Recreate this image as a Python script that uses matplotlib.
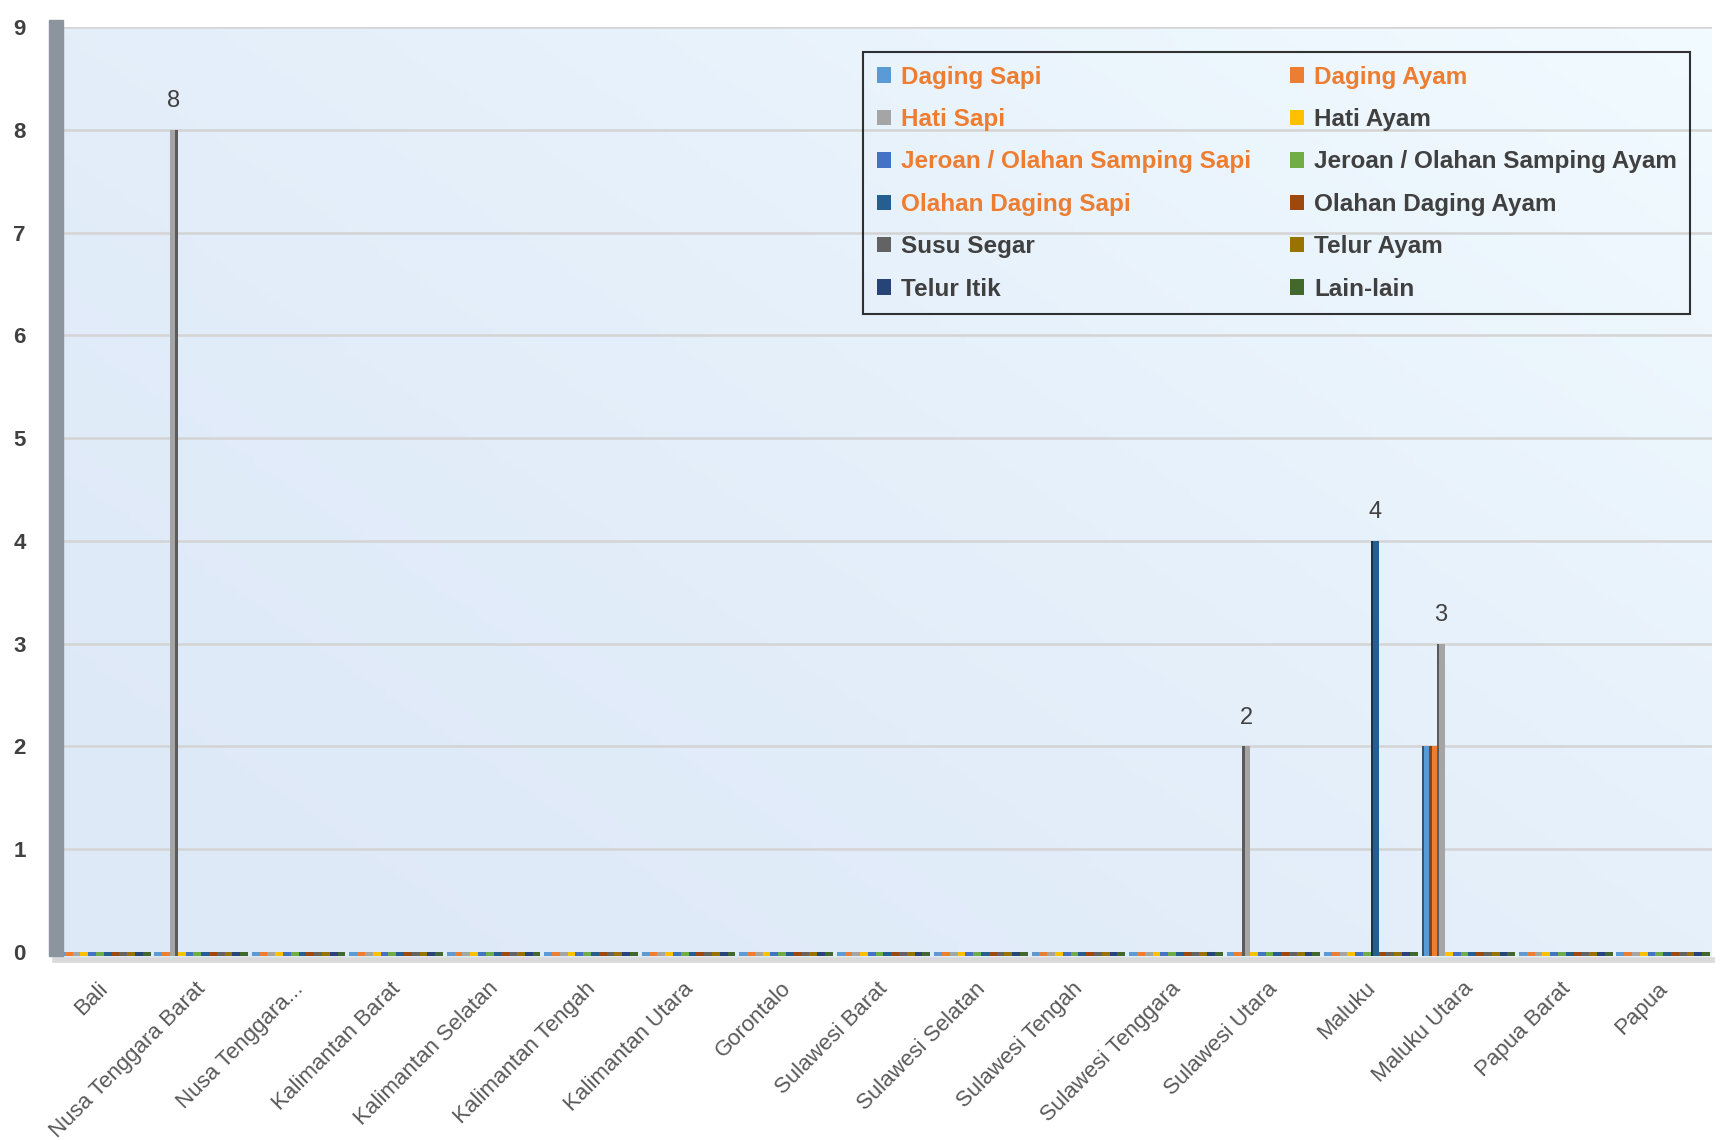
import numpy as np
import matplotlib
matplotlib.use("Agg")
import matplotlib.pyplot as plt
import matplotlib.transforms as mtransforms
from matplotlib.patches import Patch, Rectangle
from matplotlib.colors import to_rgb

plt.rcParams["font.family"] = ["Liberation Sans", "DejaVu Sans"]

provinces = ["Bali", "Nusa Tenggara Barat", "Nusa Tenggara...", "Kalimantan Barat",
             "Kalimantan Selatan", "Kalimantan Tengah", "Kalimantan Utara", "Gorontalo",
             "Sulawesi Barat", "Sulawesi Selatan", "Sulawesi Tengah", "Sulawesi Tenggara",
             "Sulawesi Utara", "Maluku", "Maluku Utara", "Papua Barat", "Papua"]

series_names = ["Daging Sapi", "Daging Ayam", "Hati Sapi", "Hati Ayam",
                "Jeroan / Olahan Samping Sapi", "Jeroan / Olahan Samping Ayam",
                "Olahan Daging Sapi", "Olahan Daging Ayam", "Susu Segar",
                "Telur Ayam", "Telur Itik", "Lain-lain"]

series_colors = ["#5B9BD5", "#ED7D31", "#A5A5A5", "#FFC000", "#4472C4", "#70AD47",
                 "#255E91", "#9E480E", "#636363", "#997300", "#264478", "#43682B"]

# legend label colours as in the source
label_colors = ["#ED7D31", "#ED7D31", "#ED7D31", "#404040", "#ED7D31", "#404040",
                "#ED7D31", "#404040", "#404040", "#404040", "#404040", "#404040"]

daging_sapi = [0, 0, 0, 0, 0, 0, 0, 0, 0, 0, 0, 0, 0, 0, 2, 0, 0]
daging_ayam = [0, 0, 0, 0, 0, 0, 0, 0, 0, 0, 0, 0, 0, 0, 2, 0, 0]
hati_sapi = [0, 8, 0, 0, 0, 0, 0, 0, 0, 0, 0, 0, 2, 0, 3, 0, 0]
olahan_daging_sapi = [0, 0, 0, 0, 0, 0, 0, 0, 0, 0, 0, 0, 0, 4, 0, 0, 0]
zeros = [0] * len(provinces)

values = [daging_sapi, daging_ayam, hati_sapi, zeros, zeros, zeros,
          olahan_daging_sapi, zeros, zeros, zeros, zeros, zeros]

W, H = 1723, 1140
fig = plt.figure(figsize=(W / 100, H / 100), dpi=100)
fig.patch.set_facecolor("white")

left, right = 55 / W, 1712 / W
bottom, top = 1 - 960 / H, 1 - 27 / H
ax = fig.add_axes([left, bottom, right - left, top - bottom])

ymin, ymax = -0.08, 9
ax.set_xlim(-0.5, len(provinces) - 0.5)
ax.set_ylim(ymin, ymax)

# gradient background
nx, ny = 200, 200
gx, gy = np.meshgrid(np.linspace(0, 1, nx), np.linspace(0, 1, ny))
t = np.clip(0.55 * gx + 0.45 * gy, 0, 1) ** 1.6
c0 = np.array(to_rgb("#DEE9F8"))
c1 = np.array(to_rgb("#F2FBFF"))
img = c0[None, None, :] * (1 - t[..., None]) + c1[None, None, :] * t[..., None]
ax.imshow(img, extent=[0, 1, 0, 1], transform=ax.transAxes, origin="lower",
          aspect="auto", zorder=0)

for y in range(1, 10):
    ax.axhline(y, color="#D4D4D4", lw=1.8, zorder=1)

n = len(series_names)
w = 0.08
base = -0.045
x = np.arange(len(provinces))
for i, (vals, col) in enumerate(zip(values, series_colors)):
    xs = x + (i - (n - 1) / 2) * w
    v = np.array(vals, dtype=float)
    ax.bar(xs, v - base, bottom=base, width=w, color=col, edgecolor="none", zorder=3)
    dark = tuple(np.array(to_rgb(col)) * 0.55)
    for xi, vi, k in zip(xs, v, x):
        if vi > 0:
            sx = xi + w * 0.2 if k < 8 else xi - w * 0.5
            ax.add_patch(Rectangle((sx, base), w * 0.3, vi - base, color=dark,
                                   lw=0, zorder=4))

# data labels: the tallest bar in each province
arr = np.array(values, dtype=float)
for k in range(len(provinces)):
    j = int(np.argmax(arr[:, k]))
    v = arr[j, k]
    if v > 0:
        ax.text(x[k] + (j - (n - 1) / 2) * w, v + 0.17, f"{int(v)}", ha="center",
                va="bottom", fontsize=17, color="#404040", zorder=5)

# floor
ax.axhline(ymin, color="#D9D9D9", lw=4, zorder=2, clip_on=False)

# left wall
wall = Rectangle((49 / W, bottom + 4 / H), 14 / W, top - bottom + 3 / H,
                 transform=fig.transFigure, color="#8C959E", zorder=0)
fig.patches.append(wall)

for s in ax.spines.values():
    s.set_visible(False)

ax.set_yticks(range(0, 10))
ax.set_yticklabels([str(i) for i in range(10)], fontsize=16, fontweight="bold",
                   color="#404040")
ax.tick_params(axis="y", length=0, pad=21)
ax.set_xticks(x)
ax.set_xticklabels(provinces, rotation=45, ha="right", rotation_mode="anchor",
                   fontsize=16, color="#595959")
ax.tick_params(axis="x", length=0, pad=13)
shift = mtransforms.ScaledTranslation(-6 / 100, 0, fig.dpi_scale_trans)
for lbl in ax.get_xticklabels():
    lbl.set_transform(lbl.get_transform() + shift)

handles = [Patch(facecolor=c, edgecolor="none") for c in series_colors]
order = [0, 2, 4, 6, 8, 10, 1, 3, 5, 7, 9, 11]
leg = ax.legend([handles[i] for i in order], [series_names[i] for i in order],
                ncol=2, loc="upper right", bbox_to_anchor=(0.987, 0.973),
                borderaxespad=0, frameon=True, fancybox=False,
                prop={"weight": "bold", "size": 17.5},
                handlelength=0.6, handleheight=0.6, handletextpad=0.4,
                columnspacing=1.6, labelspacing=0.8, borderpad=0.55)
frame = leg.get_frame()
frame.set_edgecolor("black")
frame.set_linewidth(1.5)
frame.set_facecolor("none")
for txt, i in zip(leg.get_texts(), order):
    txt.set_color(label_colors[i])

fig.savefig("out.png", dpi=100)
